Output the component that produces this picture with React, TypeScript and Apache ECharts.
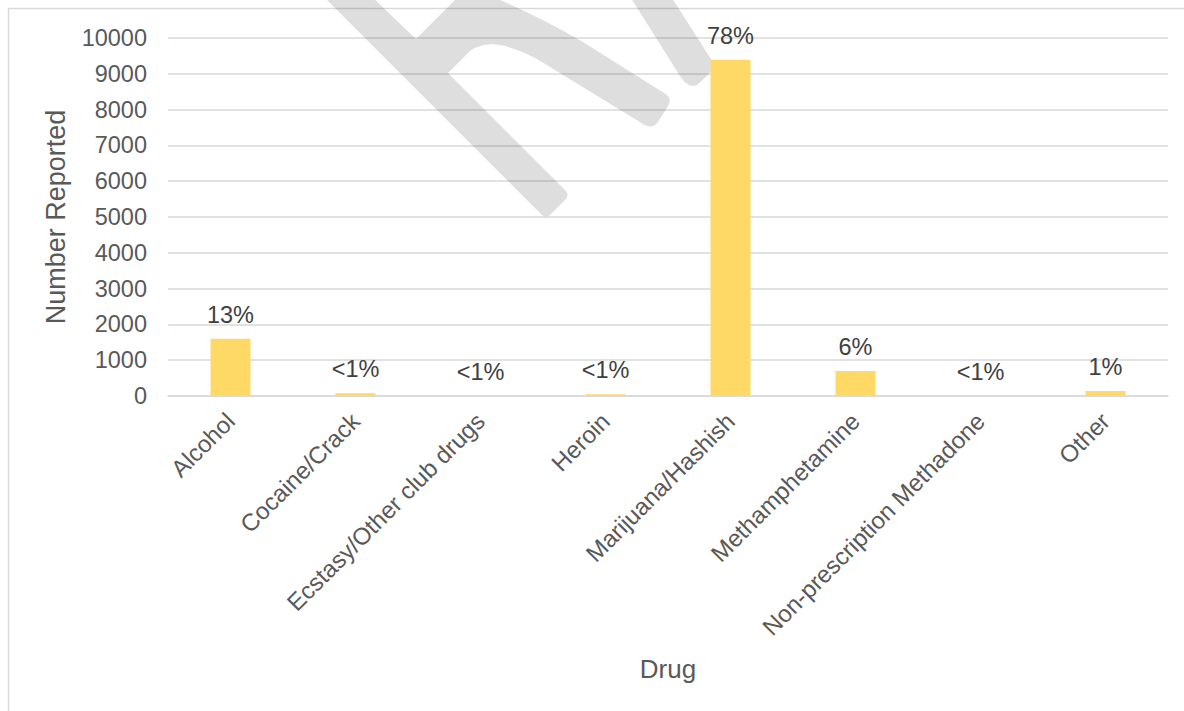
import React, { useEffect, useRef } from "react";
import * as echarts from "echarts";

const categories = [
  "Alcohol",
  "Cocaine/Crack",
  "Ecstasy/Other club drugs",
  "Heroin",
  "Marijuana/Hashish",
  "Methamphetamine",
  "Non-prescription Methadone",
  "Other",
];
const counts = [1600, 75, 12, 50, 9390, 700, 8, 140];
const percentLabels = ["13%", "<1%", "<1%", "<1%", "78%", "6%", "<1%", "1%"];
const yMin = 0;
const yMax = 10000;
const yInterval = 1000;

const WM_PATH =
  "M 322 -5 L 541 214 Q 546 219 551 214 L 565 200 Q 570 195 565 190 L 448 73 L 470 51 Q 482 42 500 45 Q 525 50 550 67 L 643 124 Q 652 130 658 122 L 668 106 Q 673 98 664 93 L 583 42 Q 535 14 488 -5 L 460 -5 L 416 39 L 370 -5 Z " +
  "M 629 -5 L 680 76 Q 688 89 697 85 L 708 75 Q 716 66 711 59 L 670 -5 Z";

let registered = false;

export default function App() {
  const ref = useRef<HTMLDivElement>(null);
  useEffect(() => {
    if (!ref.current) return;
    if (!registered) {
      echarts.graphic.registerShape("wmark", echarts.graphic.extendPath(WM_PATH, {}));
      registered = true;
    }
    const chart = echarts.init(ref.current, null, { renderer: "svg" });
    const font = "'Liberation Sans', Arial, sans-serif";
    chart.setOption({
      animation: false,
      backgroundColor: "#ffffff",
      textStyle: { fontFamily: font },
      grid: { left: 168, right: 16, top: 38, bottom: 315, containLabel: false },
      xAxis: {
        type: "category",
        data: categories,
        name: "Drug",
        nameLocation: "middle",
        nameGap: 260,
        nameTextStyle: { fontSize: 26, color: "#595959", fontFamily: font },
        axisLine: { show: true, lineStyle: { color: "#d9d9d9", width: 1.5 } },
        axisTick: { show: false },
        axisLabel: {
          rotate: 45,
          fontSize: 24,
          color: "#595959",
          margin: 21,
          interval: 0,
          fontFamily: font,
        },
      },
      yAxis: {
        type: "value",
        min: yMin,
        max: yMax,
        interval: yInterval,
        name: "Number Reported",
        nameLocation: "middle",
        nameGap: 99,
        nameTextStyle: { fontSize: 27, color: "#595959", fontFamily: font },
        axisLine: { show: false },
        axisTick: { show: false },
        axisLabel: {
          fontSize: 23.5,
          color: "#595959",
          margin: 21,
          fontFamily: font,
          formatter: (v: number) => String(v),
        },
        splitLine: { lineStyle: { color: "#d9d9d9", width: 1.5 } },
      },
      series: [
        {
          type: "bar",
          data: counts,
          barWidth: 40,
          itemStyle: { color: "#ffd966" },
          z: 3,
          label: {
            show: true,
            position: "top",
            distance: 12,
            fontSize: 23.5,
            color: "#404040",
            fontFamily: font,
            formatter: (p: any) => percentLabels[p.dataIndex],
          },
        },
      ],
      graphic: [
        {
          type: "rect",
          z: -1,
          shape: { x: 8.5, y: 8.5, width: 1400, height: 900 },
          style: { fill: "none", stroke: "#d9d9d9", lineWidth: 1.5 },
        },
        {
          type: "wmark",
          x: 0,
          y: 0,
          z: 1,
          silent: true,
          style: { fill: "rgba(0,0,0,0.13)" },
        },
      ],
    });
    return () => chart.dispose();
  }, []);
  return (
    <div
      ref={ref}
      style={{ position: "fixed", left: 0, top: 0, width: 1184, height: 711 }}
    />
  );
}
